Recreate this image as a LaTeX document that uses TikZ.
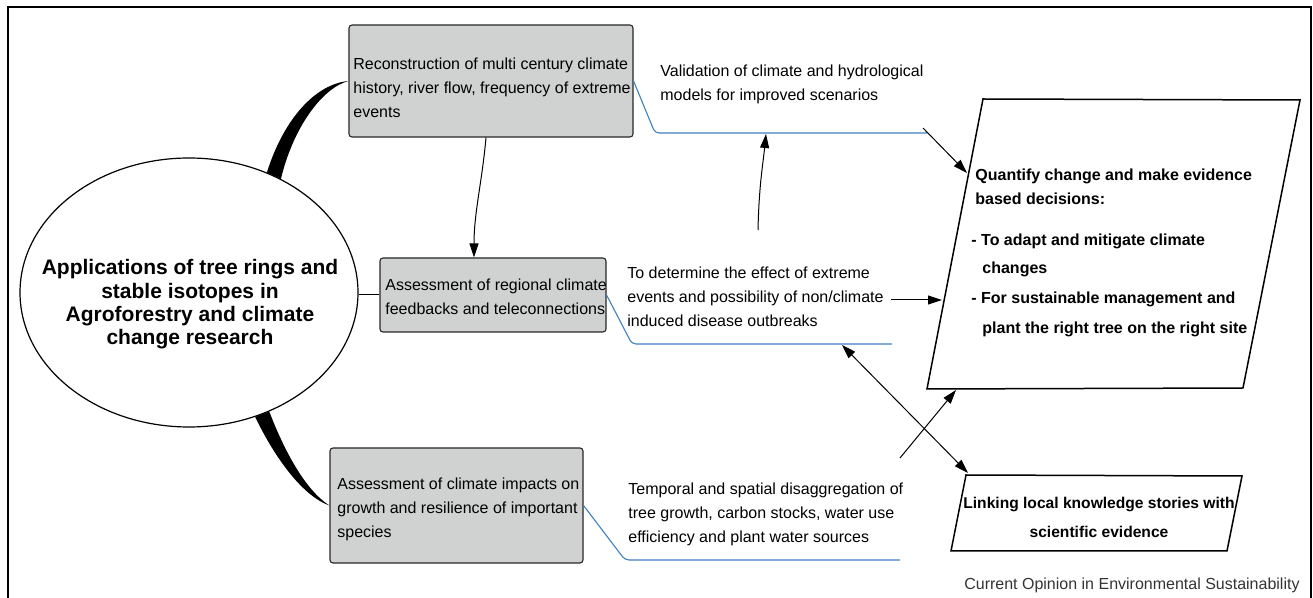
\documentclass[tikz,border=0pt]{standalone}
\usepackage{fontspec}
\setmainfont{Liberation Sans}
\usetikzlibrary{shapes.geometric,arrows.meta}
\definecolor{boxgray}{RGB}{208,210,209}
\definecolor{calloutblue}{RGB}{62,128,190}
\begin{document}
\begin{tikzpicture}[x=0.5pt,y=-0.5pt,
  txt/.style={font=\fontsize{8pt}{12pt}\selectfont, inner sep=0pt, align=left, anchor=north west},
  graybox/.style={draw=black!85, line width=0.55pt, fill=boxgray, rounded corners=1.5pt, inner sep=0pt},
  callout/.style={draw=calloutblue, line width=0.55pt, rounded corners=2pt},
  arr/.style={draw, line width=0.5pt, -{Stealth[length=7pt,width=4.5pt,inset=0pt]}},
  darr/.style={draw, line width=0.5pt, {Stealth[length=7pt,width=4.5pt,inset=0pt]}-{Stealth[length=7pt,width=4.5pt,inset=0pt]}},
  para/.style={draw, line width=0.75pt},
]
\useasboundingbox (0,0) rectangle (1313,598);
% frame
\draw[line width=0.8pt] (8,598) -- (8,7) -- (1311,7) -- (1311,598);

% central ellipse
\node[ellipse, draw, line width=0.6pt, minimum width=169pt, minimum height=134.5pt, inner sep=0pt] (root) at (189,292.5) {};
\node[font=\fontsize{10.5pt}{11.7pt}\selectfont\bfseries, align=center, inner sep=0pt, anchor=north] (title) at (190,259)
  {Applications of tree rings and\\stable isotopes in\\Agroforestry and climate\\change research};

% gray boxes
\node[graybox, minimum width=142pt, minimum height=56pt] (box1) at (491,81) {};
\node[txt] (box1t) at (353,58) {Reconstruction of multi century climate\\history, river flow, frequency of extreme\\events};
\node[graybox, minimum width=113pt, minimum height=37pt] (box2) at (493,295) {};
\node[txt] (box2t) at (385,279) {Assessment of regional climate\\feedbacks and teleconnections};
\node[graybox, minimum width=126.5pt, minimum height=57.5pt] (box3) at (456.5,505.5) {};
\node[txt] (box3t) at (337,478) {Assessment of climate impacts on\\growth and resilience of important\\species};

% callout texts
\node[txt] (val) at (660,65) {Validation of climate and hydrological\\models for improved scenarios};
\node[txt] (det) at (627,267) {To determine the effect of extreme\\events and possibility of non/climate\\induced disease outbreaks};
\node[txt] (tem) at (628,483) {Temporal and spatial disaggregation of\\tree growth, carbon stocks, water use\\efficiency and plant water sources};

% big parallelogram
\coordinate (qTL) at (983,99);
\coordinate (qTR) at (1300,100);
\coordinate (qBR) at (1243,388);
\coordinate (qBL) at (927,389);
\draw[para] (qTL) -- (qTR) -- (qBR) -- (qBL) -- cycle;
\node[font=\fontsize{8pt}{12pt}\selectfont\bfseries, inner sep=0pt, align=left, anchor=north west] (quant) at (975,169)
  {Quantify change and make evidence\\based decisions:\\[8.5pt]\hspace*{-2pt}- To adapt and mitigate climate\\[2pt]\hspace*{3.5pt}changes\\[3pt]\hspace*{-2pt}- For sustainable management and\\[3pt]\hspace*{3.5pt}plant the right tree on the right site};

% linking parallelogram
\coordinate (lTL) at (966,475);
\coordinate (lTR) at (1242,476);
\coordinate (lBR) at (1227,551);
\coordinate (lBL) at (951,551);
\draw[para] (lTL) -- (lTR) -- (lBR) -- (lBL) -- cycle;
\node[font=\fontsize{7.8pt}{14.5pt}\selectfont\bfseries, align=center, inner sep=0pt, anchor=north] (link) at (1099,497)
  {Linking local knowledge stories with\\scientific evidence};

% caption
\node[font=\fontsize{8pt}{10pt}\selectfont, text=black!80, anchor=base east, inner sep=0pt] (cap) at (1300,589)
  {Current Opinion in Environmental Sustainability};

% tapered connectors from root
\fill (box1.west) .. controls (316,84) and (284,118) .. (root.57) -- (root.51) .. controls (293,128) and (322,88) .. (box1.west) -- cycle;
\fill (root.-62) .. controls (272,452) and (300,495) .. (box3.west) .. controls (305,490) and (284,450) .. (root.-56) -- cycle;
\draw[line width=0.5pt] (box2.west) -- (box2.west -| root.east);

% blue callout lines
\coordinate (v1) at (655,133);
\coordinate (v2) at (927,133);
\draw[callout] (box1.east) -- (v1) -- (v2);
\coordinate (d1) at (632,344);
\coordinate (d2) at (892,344);
\draw[callout] (box2.east) -- (d1) -- (d2);
\coordinate (t1) at (625,560);
\coordinate (t2) at (900,560);
\draw[callout] (box3.east) -- (t1) -- (t2);

% arrows
\draw[arr] ([xshift=-2.5pt]box1.south) .. controls +(-4,45) and +(0,-45) .. ([xshift=-9.5pt]box2.north);
\coordinate (a1s) at (923,128);
\coordinate (a1e) at (967,173);
\draw[arr] (a1s) -- (a1e);
\coordinate (u1s) at (758,230);
\coordinate (u1e) at (766,134);
\draw[arr] (u1s) .. controls +(1,-45) and +(-3,30) .. (u1e);
\coordinate (a2s) at (891,300);
\coordinate (a2e) at (942,300);
\draw[arr] (a2s) -- (a2e);
\coordinate (b1s) at (842,345);
\coordinate (b1e) at (968,473);
\draw[darr] (b1s) -- (b1e);
\coordinate (a3s) at (900,458);
\coordinate (a3e) at (956,390);
\draw[arr] (a3s) -- (a3e);
\end{tikzpicture}
\end{document}
